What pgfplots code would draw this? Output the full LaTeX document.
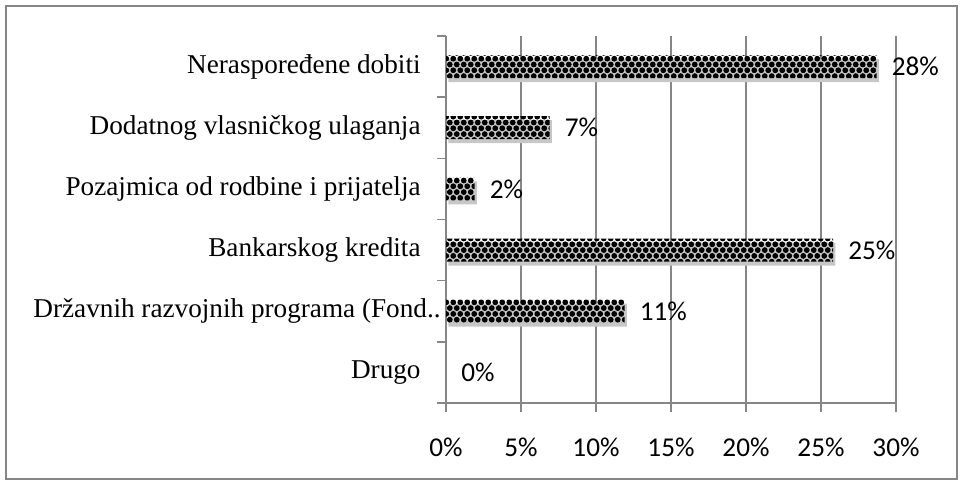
\documentclass[border=0pt]{standalone}
\usepackage{fontspec}
\setmainfont{Liberation Serif}
\newfontfamily\calibri{Carlito}
\usepackage{pgfplots}
\pgfplotsset{compat=1.18}
\usetikzlibrary{patterns}
\definecolor{axgray}{RGB}{134,134,134}
\pgfdeclarepatternformonly{balls}{\pgfqpoint{-1pt}{-1pt}}{\pgfqpoint{4.5pt}{6.8pt}}{\pgfqpoint{3.5pt}{5.8pt}}{%
  \pgfpathcircle{\pgfqpoint{0.875pt}{1.45pt}}{1.45pt}%
  \pgfpathcircle{\pgfqpoint{2.625pt}{4.35pt}}{1.45pt}%
  \pgfusepath{fill}%
}
\begin{document}
\begin{tikzpicture}
\useasboundingbox (0,0) rectangle (481.5pt,242.5pt);
\draw[axgray, line width=1pt] (3pt,3pt) rectangle (478.5pt,239.5pt);
\begin{axis}[
  at={(223pt,41pt)}, anchor=south west,
  width=225pt, height=183.5pt, scale only axis,
  xbar, bar width=11.5pt, bar shift=0pt,
  xmin=0, xmax=30, ymin=-0.5, ymax=5.5,
  xtick={0,5,...,30},
  xticklabels={0\%,5\%,10\%,15\%,20\%,25\%,30\%},
  xticklabel style={font=\calibri\fontsize{13.6}{16}\selectfont, inner sep=0pt, yshift=-12.8pt},
  ytick={-0.5,0.5,...,5.5},
  yticklabels={},
  extra y ticks={0,1,2,3,4,5},
  extra y tick labels={Drugo, Državnih razvojnih programa (Fond..\hspace*{-10pt}, Bankarskog kredita, Pozajmica od rodbine i prijatelja, Dodatnog vlasničkog ulaganja, Neraspoređene dobiti},
  extra y tick style={major tick length=0pt, yticklabel style={font=\fontsize{13.6}{16}\selectfont, inner sep=0pt, xshift=-12.5pt}},
  axis x line*=bottom, axis y line*=left,
  axis line style={axgray, line width=0.7pt},
  tick align=outside, major tick length=4.5pt,
  tick style={axgray, line width=0.7pt},
  xmajorgrids, grid style={axgray, line width=0.6pt},
  point meta=explicit symbolic,
  nodes near coords,
  nodes near coords style={font=\calibri\fontsize{13.6}{16}\selectfont, anchor=west, inner sep=0pt, xshift=7.5pt},
]
\addplot[draw=none, pattern=balls, pattern color=black,
  preaction={fill=black!22, transform canvas={xshift=1.2pt, yshift=-2pt}}]
  coordinates {(11.9,1)[11\%] (25.8,2)[25\%] (1.9,3)[2\%] (6.9,4)[7\%] (28.7,5)[28\%]};
\addplot[draw=none, fill=none] coordinates {(0,0)[0\%]};
\end{axis}
\end{tikzpicture}
\end{document}
